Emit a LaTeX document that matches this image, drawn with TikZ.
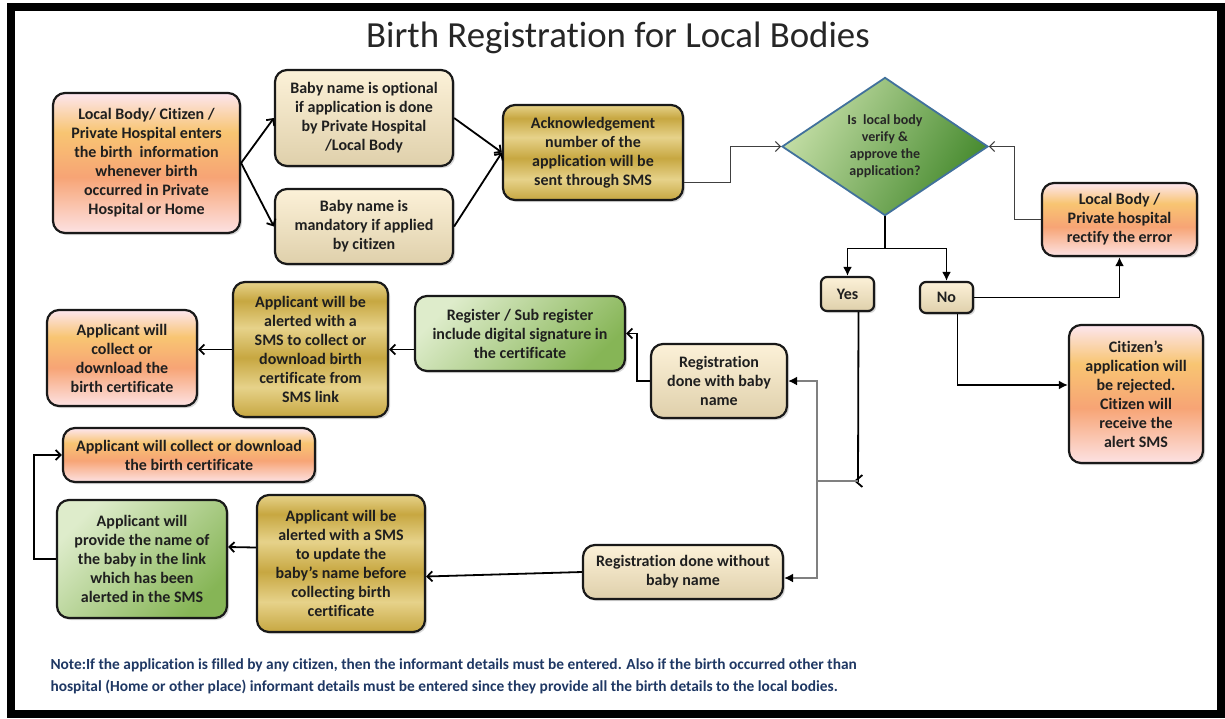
\documentclass[tikz,border=0pt]{standalone}
\usepackage{fontspec}
\setmainfont[Ligatures={NoCommon}]{Carlito}
\usepackage{tikz}
\usetikzlibrary{shapes.geometric,arrows.meta,shadows}

\definecolor{ortop}{HTML}{FDE6EF}
\definecolor{oryel}{HTML}{F8C572}
\definecolor{ormid}{HTML}{F7A475}
\definecolor{orbot}{HTML}{FDE2E3}
\definecolor{crtop}{HTML}{FCF1D8}
\definecolor{crbot}{HTML}{DFD0AB}
\definecolor{gdlt}{HTML}{E6D28A}
\definecolor{gddk}{HTML}{C7A741}
\definecolor{grlt}{HTML}{DEECCB}
\definecolor{grdk}{HTML}{86B556}
\definecolor{dmlt}{HTML}{C4DEA6}
\definecolor{dmdk}{HTML}{468A2E}
\definecolor{dmline}{HTML}{41719C}
\definecolor{notecol}{HTML}{1F3864}

\pgfdeclareverticalshading{orangeshade}{100bp}{color(0bp)=(orbot); color(25bp)=(orbot); color(45bp)=(ormid); color(61bp)=(oryel); color(75bp)=(ortop); color(100bp)=(ortop)}
\pgfdeclareverticalshading{creamshade}{100bp}{color(0bp)=(crbot); color(25bp)=(crbot); color(75bp)=(crtop); color(100bp)=(crtop)}
\pgfdeclareverticalshading{goldshade}{100bp}{color(0bp)=(gddk); color(25bp)=(gddk); color(36bp)=(gdlt); color(47bp)=(gddk); color(58bp)=(gdlt); color(68bp)=(gddk); color(75bp)=(gdlt); color(100bp)=(gdlt)}

\tikzstyle{box} = [draw=black!90, line width=2.2pt, rounded corners=12pt, align=center, inner sep=2pt, text=black!88, font=\bfseries\fontsize{16}{19}\selectfont, drop shadow={opacity=0.3, shadow xshift=2pt, shadow yshift=-2pt}]
\tikzstyle{orangebox} = [box, shading=orangeshade]
\tikzstyle{creambox} = [box, shading=creamshade]
\tikzstyle{goldbox} = [box, shading=goldshade]
\tikzstyle{greenbox} = [box, top color=grlt, bottom color=grdk, shading angle=45]
\tikzstyle{arrow} = [draw, line width=1.8pt, -{Straight Barb[length=5pt,width=10pt]}]
\tikzstyle{thinarrow} = [draw, line width=1.1pt, black!75, -{Straight Barb[length=5pt,width=10pt]}]
\tikzstyle{fillarrow} = [draw, line width=1.8pt, -{Latex[length=9pt,width=9pt]}]
\tikzstyle{grayline} = [draw, line width=1.6pt, black!50]
\tikzstyle{grayarrow} = [grayline, -{Latex[black,length=9pt,width=9pt]}]

\begin{document}
\begin{tikzpicture}[x=1pt, y=-1pt]
      \useasboundingbox (0,0) rectangle (1225,718);
      \fill[white] (0,0) rectangle (1225,718);
      \draw[line width=8pt] (11,7) rectangle (1221,714);

      \node (title) at (618,38) [text=black!85, font=\fontsize{36.8}{40}\selectfont] {Birth Registration for Local Bodies};

      \node (entry) at (146.5,163) [orangebox, minimum width=187pt, minimum height=140pt] {Local Body/ Citizen /\\Private Hospital enters\\the birth\ \ information\\whenever birth\\occurred in Private\\Hospital or Home};
      \node (optional) at (364,118) [creambox, minimum width=178pt, minimum height=96pt] {Baby name is optional\\if application is done\\by Private Hospital\\/Local Body};
      \node (mandatory) at (364,226.5) [creambox, minimum width=178pt, minimum height=75pt] {Baby name is\\mandatory if applied\\by citizen};
      \node (ack) at (593,152.5) [goldbox, minimum width=180pt, minimum height=95pt] {Acknowledgement\\number of the\\application will be\\sent through SMS};
      \node (verify) at (885,146.5) [diamond, draw=dmline, line width=1.8pt, top color=dmlt, bottom color=dmdk, shading angle=60, minimum width=206pt, minimum height=119pt, inner sep=0pt, align=center, text=black!85, font=\bfseries\fontsize{14}{17}\selectfont] {Is\ \ local body\\verify \&\\approve the\\application?};
      \node (rectify) at (1119.5,219.5) [orangebox, minimum width=155pt, minimum height=73pt] {Local Body /\\Private hospital\\rectify the error};
      \node (yes) at (847.5,294) [creambox, rounded corners=6pt, minimum width=53pt, minimum height=34pt] {Yes};
      \node (no) at (946.5,297.5) [creambox, rounded corners=6pt, minimum width=53pt, minimum height=31pt] {No};
      \node (rejected) at (1136,394) [orangebox, minimum width=134pt, minimum height=138pt] {Citizen’s\\application will\\be rejected.\\Citizen will\\receive the\\alert SMS};

      \node (withname) at (719,381) [creambox, minimum width=136pt, minimum height=74pt] {Registration\\done with baby\\name};
      \node (signature) at (520,333.5) [greenbox, minimum width=210pt, minimum height=75pt] {Register / Sub register\\include digital signature in\\the certificate};
      \node (alertdl) at (310.5,349.5) [goldbox, minimum width=155pt, minimum height=135pt] {Applicant will be\\alerted with a\\SMS to collect or\\download birth\\certificate from\\SMS link};
      \node (collect) at (122,358) [orangebox, minimum width=150pt, minimum height=96pt] {Applicant will\\collect or\\download the\\birth certificate};

      \node (withoutname) at (683,572) [creambox, minimum width=200pt, minimum height=54pt] {Registration done without\\baby name};
      \node (alertupd) at (341,563.5) [goldbox, minimum width=168pt, minimum height=137pt] {Applicant will be\\alerted with a SMS\\to update the\\baby's name before\\collecting birth\\certificate};
      \node (provide) at (142,559) [greenbox, minimum width=170pt, minimum height=118pt] {Applicant will\\provide the name of\\the baby in the link\\which has been\\alerted in the SMS};
      \node (collectwide) at (189,455) [orangebox, minimum width=252pt, minimum height=54pt] {Applicant will collect or download\\the birth certificate};

      \node (note) at (47,676) [anchor=west, align=left, text=notecol, font=\bfseries\fontsize{15.4}{22}\selectfont] {Note:If the application is filled by any citizen, then the informant details must be entered. Also if the birth occurred other than\\hospital (Home or other place) informant details must be entered since they provide all the birth details to the local bodies.};

      \draw[arrow] (entry.east) -- (optional.west);
      \draw[arrow] (entry.east) -- (mandatory.west);
      \draw[arrow] (optional.east) -- (ack.west);
      \draw[arrow] (mandatory.east) -- (ack.west);
      \draw[thinarrow] ([yshift=-30pt]ack.east) -- ++(46,0) |- (verify.west);
      \draw[thinarrow] (rectify.west) -- ++(-26,0) |- (verify.east);
      \draw[fillarrow] (verify.south) -- ++(0,32) -| (yes.north);
      \draw[fillarrow] (verify.south) -- ++(0,32) -| (no.north);
      \draw[fillarrow] (no.east) -| (rectify.south);
      \draw[fillarrow] ([xshift=11pt]no.south) |- ([yshift=9pt]rejected.west);

      \coordinate (join) at (858,481);
      \coordinate (split) at (817,481);
      \draw[arrow, -{Straight Barb[length=7pt,width=12pt]}] ([xshift=11pt]yes.south) -- (join) -- ++(-4,0);
      \draw[grayline] (join) -- (split);
      \draw[grayarrow] (split) |- (withname.east);
      \draw[grayarrow] (split) |- ([yshift=-6pt]withoutname.east);

      \draw[arrow] (withname.west) -- ++(-13,0) |- (signature.east);
      \draw[arrow] (signature.west |- alertdl.east) -- (alertdl.east);
      \draw[arrow] (alertdl.west) -- (collect.east |- alertdl.west);
      \draw[arrow] (withoutname.west) -- ([yshift=-13pt]alertupd.east);
      \draw[arrow] ([yshift=16pt]alertupd.west) -- ([yshift=12pt]provide.east);
      \draw[arrow] (provide.west) -- ++(-22,0) |- (collectwide.west);
\end{tikzpicture}
\end{document}
